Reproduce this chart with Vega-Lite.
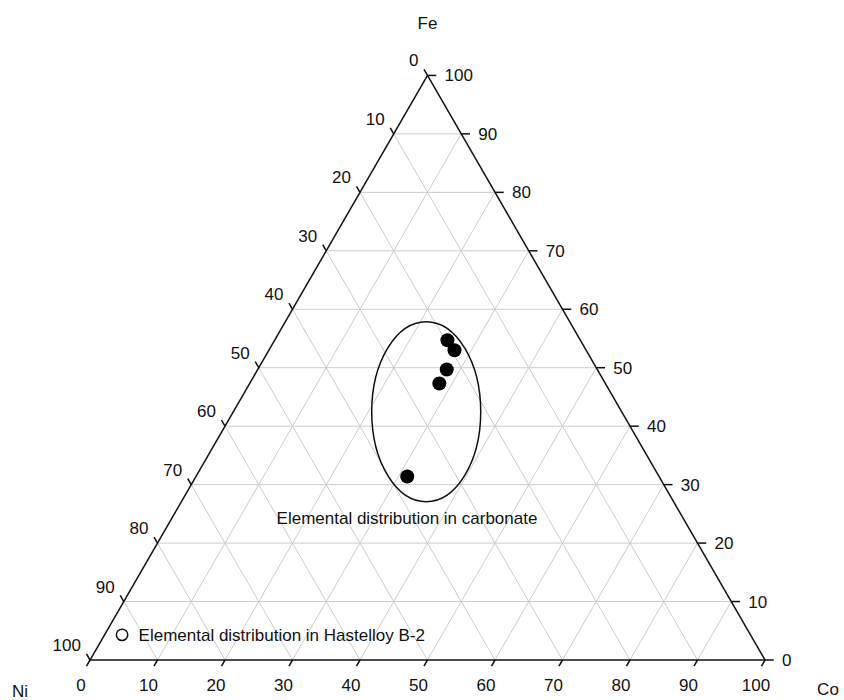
{
  "$schema": "https://vega.github.io/schema/vega-lite/v6.json",
  "width": 844,
  "height": 700,
  "autosize": {"type": "none"},
  "padding": 0,
  "background": "white",
  "config": {
    "view": {"stroke": null},
    "text": {"font": "Liberation Sans", "fontSize": 17, "color": "#111111"}
  },
  "data": {"values": [{}]},
  "datasets": {
    "scales": [
      {"axis": "Co", "v": 0}, {"axis": "Co", "v": 10}, {"axis": "Co", "v": 20}, {"axis": "Co", "v": 30},
      {"axis": "Co", "v": 40}, {"axis": "Co", "v": 50}, {"axis": "Co", "v": 60}, {"axis": "Co", "v": 70},
      {"axis": "Co", "v": 80}, {"axis": "Co", "v": 90}, {"axis": "Co", "v": 100},
      {"axis": "Ni", "v": 0}, {"axis": "Ni", "v": 10}, {"axis": "Ni", "v": 20}, {"axis": "Ni", "v": 30},
      {"axis": "Ni", "v": 40}, {"axis": "Ni", "v": 50}, {"axis": "Ni", "v": 60}, {"axis": "Ni", "v": 70},
      {"axis": "Ni", "v": 80}, {"axis": "Ni", "v": 90}, {"axis": "Ni", "v": 100},
      {"axis": "Fe", "v": 0}, {"axis": "Fe", "v": 10}, {"axis": "Fe", "v": 20}, {"axis": "Fe", "v": 30},
      {"axis": "Fe", "v": 40}, {"axis": "Fe", "v": 50}, {"axis": "Fe", "v": 60}, {"axis": "Fe", "v": 70},
      {"axis": "Fe", "v": 80}, {"axis": "Fe", "v": 90}, {"axis": "Fe", "v": 100}
    ],
    "samples": [
      {"sample": "carbonate", "Fe": 54.7, "Co": 25.6, "Ni": 19.7},
      {"sample": "carbonate", "Fe": 53.0, "Co": 27.5, "Ni": 19.5},
      {"sample": "carbonate", "Fe": 49.7, "Co": 28.0, "Ni": 22.3},
      {"sample": "carbonate", "Fe": 47.3, "Co": 28.1, "Ni": 24.6},
      {"sample": "carbonate", "Fe": 31.4, "Co": 31.3, "Ni": 37.3},
      {"sample": "Hastelloy B-2", "Fe": 4.3, "Co": 2.6, "Ni": 93.1}
    ]
  },
  "layer": [
    {
      "data": {"name": "scales"},
      "transform": [
        {"filter": "datum.v > 0 && datum.v < 100"},
        {"calculate": "datum.axis==='Co' ? datum.v : datum.axis==='Fe' ? datum.v/2 : 100-datum.v", "as": "x"},
        {"calculate": "datum.axis==='Fe' ? datum.v*0.8660254 : 0", "as": "y"},
        {"calculate": "datum.axis==='Co' ? (100+datum.v)/2 : datum.axis==='Fe' ? 100-datum.v/2 : (100-datum.v)/2", "as": "x2"},
        {"calculate": "datum.axis==='Fe' ? datum.v*0.8660254 : (100-datum.v)*0.8660254", "as": "y2"}
      ],
      "mark": {"type": "rule", "color": "#cccccc", "strokeWidth": 1},
      "encoding": {
        "x": {"field": "x", "type": "quantitative", "axis": null, "scale": {"domain": [-13.3333, 111.7037], "nice": false, "zero": false}},
        "y": {"field": "y", "type": "quantitative", "axis": null, "scale": {"domain": [-5.9259, 97.7778], "nice": false, "zero": false}},
        "x2": {"field": "x2"},
        "y2": {"field": "y2"}
      }
    },
    {
      "data": {"name": "scales"},
      "transform": [
        {"filter": "datum.v === 0"},
        {"calculate": "datum.axis==='Co' ? datum.v : datum.axis==='Fe' ? datum.v/2 : 100-datum.v", "as": "x"},
        {"calculate": "datum.axis==='Fe' ? datum.v*0.8660254 : 0", "as": "y"},
        {"calculate": "datum.axis==='Co' ? (100+datum.v)/2 : datum.axis==='Fe' ? 100-datum.v/2 : (100-datum.v)/2", "as": "x2"},
        {"calculate": "datum.axis==='Fe' ? datum.v*0.8660254 : (100-datum.v)*0.8660254", "as": "y2"}
      ],
      "mark": {"type": "rule", "color": "#111111", "strokeWidth": 1.5},
      "encoding": {
        "x": {"field": "x", "type": "quantitative", "axis": null, "scale": {"domain": [-13.3333, 111.7037], "nice": false, "zero": false}},
        "y": {"field": "y", "type": "quantitative", "axis": null, "scale": {"domain": [-5.9259, 97.7778], "nice": false, "zero": false}},
        "x2": {"field": "x2"},
        "y2": {"field": "y2"}
      }
    },
    {
      "data": {"name": "scales"},
      "transform": [
        {"calculate": "datum.axis==='Co' ? datum.v : datum.axis==='Ni' ? (100-datum.v)/2 : 100-datum.v/2", "as": "tx"},
        {"calculate": "datum.axis==='Co' ? 0 : datum.axis==='Ni' ? (100-datum.v)*0.8660254 : datum.v*0.8660254", "as": "ty"},
        {"calculate": "datum.axis==='Fe' ? datum.tx+1.3 : datum.tx-0.52", "as": "tx2"},
        {"calculate": "datum.axis==='Co' ? -0.9 : datum.axis==='Ni' ? datum.ty+0.9 : datum.ty", "as": "ty2"}
      ],
      "mark": {"type": "rule", "color": "#111111", "strokeWidth": 1.5},
      "encoding": {
        "x": {"field": "tx", "type": "quantitative", "axis": null, "scale": {"domain": [-13.3333, 111.7037], "nice": false, "zero": false}},
        "y": {"field": "ty", "type": "quantitative", "axis": null, "scale": {"domain": [-5.9259, 97.7778], "nice": false, "zero": false}},
        "x2": {"field": "tx2"},
        "y2": {"field": "ty2"}
      }
    },
    {
      "data": {"name": "scales"},
      "transform": [
        {"filter": "datum.axis === 'Co'"},
        {"calculate": "datum.v", "as": "tx"}
      ],
      "mark": {"type": "text", "align": "center", "baseline": "middle", "dx": -9, "dy": 26},
      "encoding": {
        "x": {"field": "tx", "type": "quantitative", "axis": null, "scale": {"domain": [-13.3333, 111.7037], "nice": false, "zero": false}},
        "y": {"datum": 0, "type": "quantitative", "axis": null, "scale": {"domain": [-5.9259, 97.7778], "nice": false, "zero": false}},
        "text": {"field": "v", "type": "quantitative"}
      }
    },
    {
      "data": {"name": "scales"},
      "transform": [
        {"filter": "datum.axis === 'Ni'"},
        {"calculate": "(100-datum.v)/2", "as": "tx"},
        {"calculate": "(100-datum.v)*0.8660254", "as": "ty"}
      ],
      "mark": {"type": "text", "align": "right", "baseline": "middle", "dx": -9, "dy": -14},
      "encoding": {
        "x": {"field": "tx", "type": "quantitative", "axis": null, "scale": {"domain": [-13.3333, 111.7037], "nice": false, "zero": false}},
        "y": {"field": "ty", "type": "quantitative", "axis": null, "scale": {"domain": [-5.9259, 97.7778], "nice": false, "zero": false}},
        "text": {"field": "v", "type": "quantitative"}
      }
    },
    {
      "data": {"name": "scales"},
      "transform": [
        {"filter": "datum.axis === 'Fe'"},
        {"calculate": "100-datum.v/2", "as": "tx"},
        {"calculate": "datum.v*0.8660254", "as": "ty"}
      ],
      "mark": {"type": "text", "align": "left", "baseline": "middle", "dx": 17, "dy": 1},
      "encoding": {
        "x": {"field": "tx", "type": "quantitative", "axis": null, "scale": {"domain": [-13.3333, 111.7037], "nice": false, "zero": false}},
        "y": {"field": "ty", "type": "quantitative", "axis": null, "scale": {"domain": [-5.9259, 97.7778], "nice": false, "zero": false}},
        "text": {"field": "v", "type": "quantitative"}
      }
    },
    {
      "mark": {"type": "text", "text": "Fe", "align": "center", "baseline": "middle"},
      "encoding": {
        "x": {"datum": 50.0, "type": "quantitative", "axis": null, "scale": {"domain": [-13.3333, 111.7037], "nice": false, "zero": false}},
        "y": {"datum": 94.22, "type": "quantitative", "axis": null, "scale": {"domain": [-5.9259, 97.7778], "nice": false, "zero": false}}
      }
    },
    {
      "mark": {"type": "text", "text": "Ni", "align": "center", "baseline": "middle"},
      "encoding": {
        "x": {"datum": -10.37, "type": "quantitative", "axis": null, "scale": {"domain": [-13.3333, 111.7037], "nice": false, "zero": false}},
        "y": {"datum": -4.74, "type": "quantitative", "axis": null, "scale": {"domain": [-5.9259, 97.7778], "nice": false, "zero": false}}
      }
    },
    {
      "mark": {"type": "text", "text": "Co", "align": "center", "baseline": "middle"},
      "encoding": {
        "x": {"datum": 109.33, "type": "quantitative", "axis": null, "scale": {"domain": [-13.3333, 111.7037], "nice": false, "zero": false}},
        "y": {"datum": -4.44, "type": "quantitative", "axis": null, "scale": {"domain": [-5.9259, 97.7778], "nice": false, "zero": false}}
      }
    },
    {
      "mark": {
        "type": "point",
        "shape": "M 0 -1 A 0.6056 1 0 1 1 0 1 A 0.6056 1 0 1 1 0 -1 Z",
        "size": 32400,
        "filled": false,
        "stroke": "#111111",
        "strokeWidth": 1.5,
        "opacity": 1
      },
      "encoding": {
        "x": {"datum": 49.81, "type": "quantitative", "axis": null, "scale": {"domain": [-13.3333, 111.7037], "nice": false, "zero": false}},
        "y": {"datum": 36.79, "type": "quantitative", "axis": null, "scale": {"domain": [-5.9259, 97.7778], "nice": false, "zero": false}}
      }
    },
    {
      "data": {"name": "samples"},
      "transform": [
        {"filter": "datum.sample === 'carbonate'"},
        {"calculate": "datum.Co + datum.Fe/2", "as": "x"},
        {"calculate": "datum.Fe*0.8660254", "as": "y"}
      ],
      "mark": {"type": "circle", "size": 196, "color": "#000000", "opacity": 1},
      "encoding": {
        "x": {"field": "x", "type": "quantitative", "axis": null, "scale": {"domain": [-13.3333, 111.7037], "nice": false, "zero": false}},
        "y": {"field": "y", "type": "quantitative", "axis": null, "scale": {"domain": [-5.9259, 97.7778], "nice": false, "zero": false}}
      }
    },
    {
      "data": {"name": "samples"},
      "transform": [
        {"filter": "datum.sample === 'Hastelloy B-2'"},
        {"calculate": "datum.Co + datum.Fe/2", "as": "x"},
        {"calculate": "datum.Fe*0.8660254", "as": "y"}
      ],
      "mark": {"type": "point", "shape": "circle", "size": 130, "filled": false, "stroke": "#111111", "strokeWidth": 1.5, "opacity": 1},
      "encoding": {
        "x": {"field": "x", "type": "quantitative", "axis": null, "scale": {"domain": [-13.3333, 111.7037], "nice": false, "zero": false}},
        "y": {"field": "y", "type": "quantitative", "axis": null, "scale": {"domain": [-5.9259, 97.7778], "nice": false, "zero": false}}
      }
    },
    {
      "data": {"name": "samples"},
      "transform": [
        {"filter": "datum.sample === 'Hastelloy B-2'"},
        {"calculate": "datum.Co + datum.Fe/2", "as": "x"},
        {"calculate": "datum.Fe*0.8660254", "as": "y"},
        {"calculate": "'Elemental distribution in ' + datum.sample", "as": "label"}
      ],
      "mark": {"type": "text", "align": "left", "baseline": "middle", "dx": 16.5, "dy": 1},
      "encoding": {
        "x": {"field": "x", "type": "quantitative", "axis": null, "scale": {"domain": [-13.3333, 111.7037], "nice": false, "zero": false}},
        "y": {"field": "y", "type": "quantitative", "axis": null, "scale": {"domain": [-5.9259, 97.7778], "nice": false, "zero": false}},
        "text": {"field": "label"}
      }
    },
    {
      "mark": {"type": "text", "text": "Elemental distribution in carbonate", "align": "center", "baseline": "middle"},
      "encoding": {
        "x": {"datum": 46.96, "type": "quantitative", "axis": null, "scale": {"domain": [-13.3333, 111.7037], "nice": false, "zero": false}},
        "y": {"datum": 20.89, "type": "quantitative", "axis": null, "scale": {"domain": [-5.9259, 97.7778], "nice": false, "zero": false}}
      }
    }
  ]
}
